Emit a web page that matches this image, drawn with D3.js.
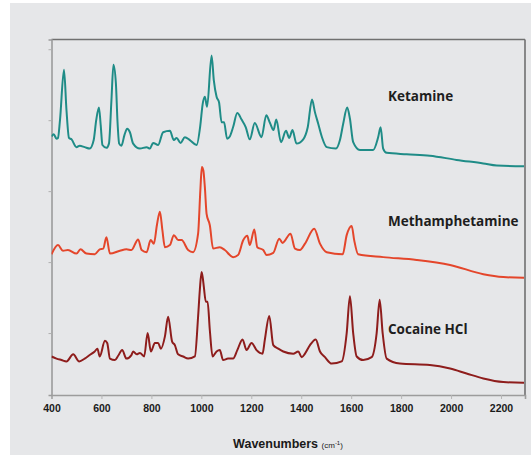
<!DOCTYPE html>
<html><head><meta charset="utf-8">
<script src="https://cdn.jsdelivr.net/npm/d3@7"></script>
<style>
html,body{margin:0;padding:0;background:#fff;}
svg{display:block;}
</style></head>
<body>
<svg id="chart" width="531" height="455"></svg>
<script>
// Wavenumber ticks
const xTicks = [400, 600, 800, 1000, 1200, 1400, 1600, 1800, 2000, 2200];
const yTicks = [1, 2, 3, 4, 5];
const seriesNames = ["Ketamine", "Methamphetamine", "Cocaine HCl"];

// Ketamine (wavenumber, intensity a.u. offset)
const ketamineWn = [400,409,420,426,434,450,460,470,480,500,513,533,553,569,579,590,597,604,620,630,640,648,658,664,671,680,692,703,714,727,754,781,794,807,827,847,874,890,901,917,934,954,981,996,1005,1014,1023,1041,1050,1061,1071,1081,1091,1103,1114,1127,1144,1161,1178,1194,1214,1241,1260,1275,1289,1300,1319,1339,1352,1365,1381,1408,1426,1443,1455,1468,1483,1502,1539,1555,1568,1584,1595,1608,1635,1688,1708,1718,1728,1742,1822,1915,2022,2129,2183,2289,2300];
const ketamineI  = [3.77,3.80,3.74,3.75,4.00,4.71,4.14,3.75,3.73,3.62,3.64,3.62,3.60,3.72,4.00,4.18,3.93,3.65,3.61,3.67,4.28,4.78,4.51,4.00,3.67,3.64,3.79,3.88,3.83,3.67,3.60,3.62,3.60,3.68,3.65,3.83,3.85,3.72,3.75,3.68,3.76,3.72,3.65,3.93,4.22,4.33,4.19,4.91,4.56,4.33,4.25,3.97,3.97,3.74,3.77,3.90,4.10,4.01,3.90,3.73,3.96,3.76,4.07,3.96,3.86,4.01,3.69,3.85,3.75,3.86,3.67,3.73,3.90,4.29,4.11,3.95,3.76,3.62,3.60,3.72,3.95,4.18,4.02,3.69,3.58,3.58,3.76,3.90,3.60,3.54,3.52,3.50,3.44,3.39,3.36,3.35,3.35];

// Methamphetamine
const methWn = [400,426,446,466,500,516,540,573,593,607,620,634,674,700,720,747,761,781,797,810,822,834,844,854,874,890,907,921,947,967,987,996,1002,1008,1014,1021,1034,1047,1074,1094,1127,1147,1168,1184,1194,1212,1224,1248,1261,1288,1312,1325,1357,1375,1395,1415,1452,1475,1502,1566,1582,1602,1612,1628,1728,1862,1996,2129,2209,2289,2300];
const methI  = [2.11,2.24,2.16,2.17,2.12,2.18,2.12,2.11,2.18,2.19,2.35,2.12,2.16,2.18,2.17,2.32,2.17,2.14,2.31,2.26,2.52,2.71,2.45,2.21,2.24,2.38,2.31,2.31,2.17,2.14,2.40,3.01,3.34,3.29,3.06,2.68,2.52,2.19,2.21,2.17,2.07,2.10,2.31,2.37,2.24,2.46,2.21,2.17,2.10,2.13,2.33,2.27,2.40,2.19,2.17,2.26,2.47,2.26,2.14,2.11,2.38,2.51,2.31,2.11,2.07,2.03,1.96,1.83,1.79,1.78,1.78];

// Cocaine HCl
const cocaineWn = [400,420,440,460,487,511,533,553,573,584,593,614,623,634,654,667,683,700,720,727,741,754,771,785,798,814,827,838,854,867,883,894,907,927,947,974,987,994,1001,1006,1010,1018,1025,1034,1045,1061,1074,1087,1107,1127,1144,1165,1181,1201,1221,1245,1254,1272,1288,1308,1328,1368,1388,1402,1415,1435,1458,1475,1495,1522,1562,1582,1595,1608,1622,1648,1682,1702,1714,1726,1742,1795,1915,1996,2062,2129,2209,2289,2300];
const cocaineI  = [0.67,0.64,0.62,0.60,0.70,0.60,0.64,0.69,0.74,0.78,0.67,0.89,0.86,0.64,0.62,0.68,0.76,0.64,0.69,0.74,0.70,0.72,0.67,1.00,0.74,0.86,0.86,0.78,0.95,1.23,0.88,0.83,0.70,0.67,0.64,0.67,1.23,1.61,1.86,1.77,1.65,1.44,1.44,1.04,0.67,0.74,0.76,0.62,0.64,0.64,0.76,0.91,0.76,0.86,0.76,0.71,0.90,1.24,0.83,0.78,0.74,0.71,0.74,0.66,0.71,0.83,0.91,0.74,0.66,0.57,0.60,1.00,1.52,1.00,0.67,0.62,0.66,1.00,1.47,1.00,0.64,0.57,0.55,0.50,0.43,0.36,0.31,0.30,0.30];

const colors = ["#1f8c87", "#e4462b", "#8e1d1c"];
const labelCenters = [4.34, 2.57, 1.06]; // label vertical position in intensity units

const svg = d3.select("#chart");
// panel background
svg.append("rect").attr("x", 10).attr("y", 3).attr("width", 521).attr("height", 452).attr("fill", "#e6e7e9");

const L = 51.5, R = 525, T = 39.5, B = 395;
const x = d3.scaleLinear().domain([400, 2296]).range([L, R]);
const y = d3.scaleLinear().domain([0.127, 5.137]).range([B, T]);

// frame: top and right darker
svg.append("line").attr("x1", L).attr("x2", R).attr("y1", T).attr("y2", T).attr("stroke", "#707070").attr("stroke-width", 1.6);
svg.append("line").attr("x1", R).attr("x2", R).attr("y1", T).attr("y2", B).attr("stroke", "#707070").attr("stroke-width", 1.6);

// x axis
const xAxis = svg.append("g").attr("transform", `translate(0,${B})`)
  .call(d3.axisBottom(x).tickValues(xTicks).tickSize(4).tickPadding(6).tickFormat(d3.format("d")));
xAxis.select(".domain").attr("stroke", "#9c9c9c").attr("stroke-width", 1.6);
xAxis.selectAll(".tick line").attr("stroke", "#b5b5b5");
xAxis.selectAll(".tick text").attr("fill", "#1a1a1a").style("font-family", "'Liberation Sans', Arial, sans-serif")
  .style("font-weight", "bold").style("font-size", "10.5px");

// y axis (ticks only, no labels)
const yAxis = svg.append("g").attr("transform", `translate(${L},0)`)
  .call(d3.axisLeft(y).tickValues(yTicks).tickSize(3).tickFormat(""));
yAxis.select(".domain").attr("stroke", "#9c9c9c").attr("stroke-width", 1.6);
yAxis.selectAll(".tick line").attr("stroke", "#b0b0b0");

// series
const series = [
  {name: seriesNames[0], wn: ketamineWn, val: ketamineI},
  {name: seriesNames[1], wn: methWn, val: methI},
  {name: seriesNames[2], wn: cocaineWn, val: cocaineI}
];
const line = d3.line().x(d => x(d[0])).y(d => y(d[1])).curve(d3.curveMonotoneX);
const clip = svg.append("clipPath").attr("id", "clip").append("rect")
  .attr("x", L).attr("y", T).attr("width", R - L - 1).attr("height", B - T);
series.forEach((s, i) => {
  const pts = s.wn.map((w, k) => [w, s.val[k]]);
  svg.append("path").attr("d", line(pts)).attr("fill", "none")
    .attr("stroke", colors[i]).attr("stroke-width", 2).attr("stroke-linejoin", "round")
    .attr("clip-path", "url(#clip)");
  svg.append("text").attr("x", 388).attr("y", y(labelCenters[i])).attr("dy", "0.35em")
    .attr("fill", "#1e1e1e").style("font-family", "'Open Sans', sans-serif")
    .style("font-weight", "bold").style("font-size", "13.5px").text(s.name);
});

// x axis title
const title = svg.append("text").attr("x", 288).attr("y", 448).attr("text-anchor", "middle")
  .attr("fill", "#1a1a1a").style("font-family", "'Liberation Sans', Arial, sans-serif");
title.append("tspan").style("font-weight", "bold").style("font-size", "12.5px").text("Wavenumbers ");
title.append("tspan").style("font-size", "8px").text("(cm");
title.append("tspan").style("font-size", "6px").attr("dy", -3).text("-1");
title.append("tspan").style("font-size", "8px").attr("dy", 3).text(")");
</script>
</body></html>
